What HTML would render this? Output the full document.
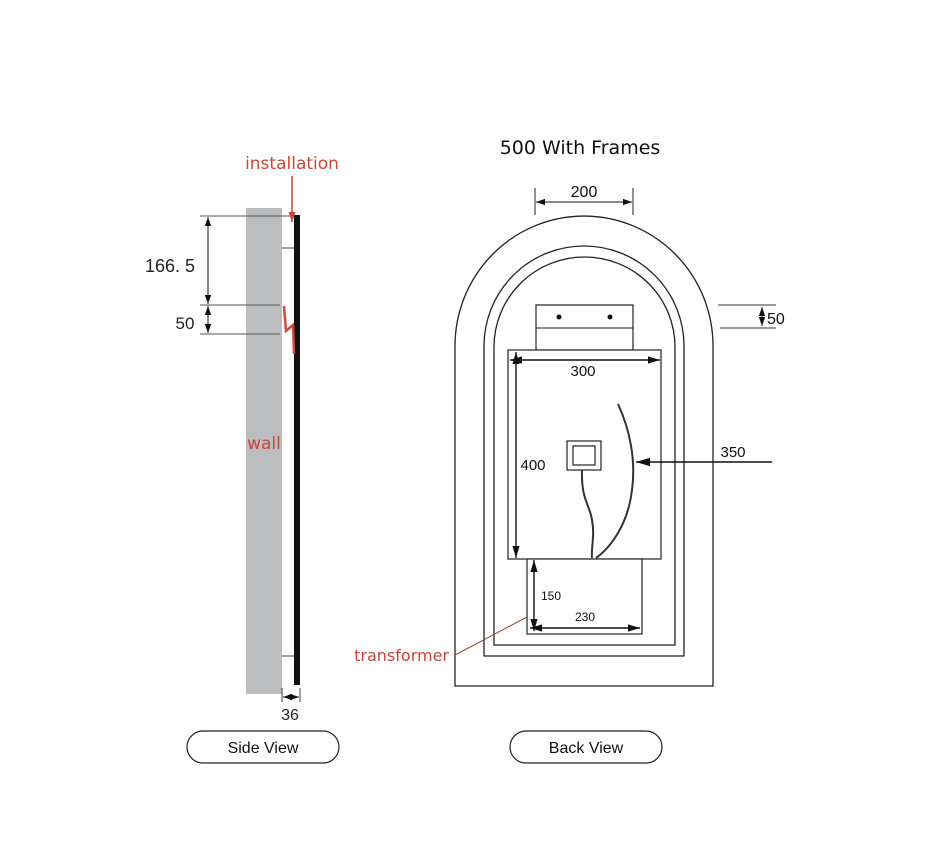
<!DOCTYPE html>
<html><head><meta charset="utf-8"><style>
html,body{margin:0;padding:0;background:#fff;width:940px;height:846px;overflow:hidden}
text{font-family:"Liberation Sans","DejaVu Sans",sans-serif}
</style></head><body>
<svg width="940" height="846" viewBox="0 0 940 846" xmlns="http://www.w3.org/2000/svg">
<defs>
<marker id="a" viewBox="0 0 10 10" refX="10" refY="5" markerWidth="9" markerHeight="9" orient="auto-start-reverse" markerUnits="userSpaceOnUse"><path d="M0,1.5 L10,5 L0,8.5z" fill="#111"/></marker>
<marker id="c" viewBox="0 0 10 10" refX="10" refY="5" markerWidth="12" markerHeight="12" orient="auto-start-reverse" markerUnits="userSpaceOnUse"><path d="M0,2 L10,5 L0,8z" fill="#111"/></marker>
<marker id="r" viewBox="0 0 10 10" refX="10" refY="5" markerWidth="10" markerHeight="10" orient="auto" markerUnits="userSpaceOnUse"><path d="M0,1.5 L10,5 L0,8.5z" fill="#c8473a"/></marker>
<marker id="b" viewBox="0 0 10 10" refX="10" refY="5" markerWidth="14" markerHeight="14" orient="auto" markerUnits="userSpaceOnUse"><path d="M0,2 L10,5 L0,8z" fill="#111"/></marker>
</defs>
<!-- Side view -->
<rect x="246" y="208" width="36" height="486" fill="#bcbdbf"/>
<rect x="294" y="215" width="6" height="470" fill="#111"/>
<line x1="282" y1="248" x2="294" y2="248" stroke="#444"/>
<line x1="282" y1="656" x2="294" y2="656" stroke="#444"/>
<line x1="200" y1="216" x2="292" y2="216" stroke="#555"/>
<line x1="200" y1="305" x2="280" y2="305" stroke="#555"/>
<line x1="200" y1="334" x2="280" y2="334" stroke="#555"/>
<line x1="208" y1="217" x2="208" y2="304" stroke="#111" marker-start="url(#a)" marker-end="url(#a)"/>
<line x1="208" y1="306" x2="208" y2="333" stroke="#111" marker-start="url(#a)" marker-end="url(#a)"/>
<text x="170" y="272" font-size="18" text-anchor="middle" fill="#222">166. 5</text>
<text x="185" y="329" font-size="17" text-anchor="middle" fill="#222">50</text>
<polyline points="284,306 286,331 293,325 294,354" fill="none" stroke="#d04a3a" stroke-width="2.5"/>
<text x="292" y="169" font-size="17" text-anchor="middle" fill="#c8473a" style="font-family:'DejaVu Sans',sans-serif">installation</text>
<line x1="292" y1="176" x2="292" y2="222" stroke="#c8473a" stroke-width="1.5" marker-end="url(#r)"/>
<text x="264" y="449" font-size="17" text-anchor="middle" fill="#c8473a" style="font-family:'DejaVu Sans',sans-serif">wall</text>
<line x1="282" y1="688" x2="282" y2="702" stroke="#444"/>
<line x1="300" y1="688" x2="300" y2="702" stroke="#444"/>
<line x1="283" y1="697" x2="299" y2="697" stroke="#111" marker-start="url(#a)" marker-end="url(#a)"/>
<text x="290" y="720" font-size="16" text-anchor="middle" fill="#222">36</text>
<rect x="187" y="731" width="152" height="32" rx="16" fill="#fff" stroke="#222" stroke-width="1.2"/>
<text x="263" y="753" font-size="16" text-anchor="middle" fill="#111">Side View</text>
<!-- Back view -->
<text x="580" y="154" font-size="19" text-anchor="middle" fill="#111" style="font-family:'DejaVu Sans',sans-serif">500 With Frames</text>
<path d="M455,686 L455,346 A129,130 0 0 1 713,346 L713,686 Z" fill="none" stroke="#222" stroke-width="1.3"/>
<path d="M484,656 L484,346 A100,100 0 0 1 684,346 L684,656 Z" fill="none" stroke="#222" stroke-width="1.3"/>
<path d="M494,645 L494,347 A90.5,90 0 0 1 675,347 L675,645 Z" fill="none" stroke="#222" stroke-width="1.3"/>
<line x1="535" y1="188" x2="535" y2="215" stroke="#222"/>
<line x1="633" y1="188" x2="633" y2="215" stroke="#222"/>
<line x1="536" y1="202" x2="632" y2="202" stroke="#111" marker-start="url(#a)" marker-end="url(#a)"/>
<text x="584" y="197" font-size="16" text-anchor="middle" fill="#111">200</text>
<rect x="536" y="305" width="97" height="45" fill="#fff" stroke="#222" stroke-width="1.2"/>
<line x1="536" y1="328" x2="633" y2="328" stroke="#222"/>
<circle cx="559" cy="317" r="2.5" fill="#111"/><circle cx="610" cy="317" r="2.5" fill="#111"/>
<line x1="718" y1="305" x2="776" y2="305" stroke="#333"/>
<line x1="720" y1="328" x2="776" y2="328" stroke="#333"/>
<line x1="762" y1="307" x2="762" y2="326" stroke="#111" marker-start="url(#a)" marker-end="url(#a)"/>
<text x="767" y="324" font-size="16" fill="#111">50</text>
<rect x="508" y="350" width="153" height="209" fill="#fff" stroke="#222" stroke-width="1.2"/>
<line x1="510" y1="360" x2="660" y2="360" stroke="#111" stroke-width="1.4" marker-start="url(#c)" marker-end="url(#c)"/>
<text x="583" y="376" font-size="15" text-anchor="middle" fill="#111">300</text>
<line x1="516" y1="352" x2="516" y2="558" stroke="#111" stroke-width="1.4" marker-start="url(#c)" marker-end="url(#c)"/>
<text x="533" y="470" font-size="15" text-anchor="middle" fill="#111">400</text>
<rect x="567" y="441" width="34" height="29" fill="#fff" stroke="#222" stroke-width="1.2"/>
<rect x="573" y="446" width="22" height="19" fill="#fff" stroke="#222" stroke-width="1.2"/>
<path d="M582,470 C581,500 590,505 592,520 C595,535 591,548 592,558" fill="none" stroke="#333" stroke-width="2"/>
<path d="M618,404 C630,430 636,460 632,490 C628,525 610,548 596,558" fill="none" stroke="#333" stroke-width="2"/>
<line x1="772" y1="462" x2="636" y2="462" stroke="#111" stroke-width="1.4" marker-end="url(#b)"/>
<text x="733" y="457" font-size="15" text-anchor="middle" fill="#111">350</text>
<rect x="579" y="564" width="10" height="1.5" fill="#555"/><rect x="579" y="567" width="10" height="1.5" fill="#555"/>
<rect x="527" y="559" width="115" height="75" fill="#fff" stroke="#222" stroke-width="1.2"/>
<line x1="534" y1="560" x2="534" y2="631" stroke="#111" stroke-width="1.4" marker-start="url(#c)" marker-end="url(#c)"/>
<text x="541" y="600" font-size="12" fill="#111">150</text>
<line x1="530" y1="628" x2="640" y2="628" stroke="#111" stroke-width="1.4" marker-start="url(#c)" marker-end="url(#c)"/>
<text x="585" y="621" font-size="12" text-anchor="middle" fill="#111">230</text>
<line x1="527" y1="617" x2="455" y2="655" stroke="#a0443a" stroke-width="1"/>
<text x="449" y="661" font-size="16" text-anchor="end" fill="#c8473a" style="font-family:'DejaVu Sans',sans-serif">transformer</text>
<rect x="510" y="731" width="152" height="32" rx="16" fill="#fff" stroke="#222" stroke-width="1.2"/>
<text x="586" y="753" font-size="16" text-anchor="middle" fill="#111">Back View</text>
</svg>
</body></html>
